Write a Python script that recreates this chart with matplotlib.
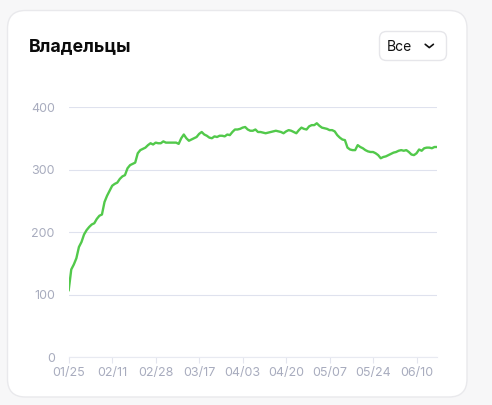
import matplotlib
matplotlib.use("Agg")
import matplotlib.pyplot as plt
import matplotlib.dates as mdates
from matplotlib.patches import FancyBboxPatch
from matplotlib.lines import Line2D
import pandas as pd

# ---- data ----
start_date = "2025-01-25"
owners = [
    107, 140, 148, 158, 176, 184, 196, 203, 208, 212,
    214, 221, 226, 228, 248, 258, 266, 274, 277, 279,
    285, 289, 291, 302, 307, 309, 311, 326, 331, 333,
    335, 339, 342, 340, 343, 342, 342, 345, 343, 343,
    343, 343, 343, 341, 350, 356, 350, 346, 348, 350,
    352, 357, 360, 356, 354, 351, 350, 353, 352, 354,
    354, 353, 356, 355, 360, 364, 364, 365, 367, 368,
    364, 362, 362, 364, 360, 360, 359, 358, 359, 360,
    361, 362, 361, 360, 358, 361, 363, 362, 360, 358,
    363, 367, 365, 364, 369, 371, 371, 374, 370, 367,
    366, 365, 363, 363, 361, 355, 351, 348, 347, 335,
    332, 331, 331, 339, 336, 334, 331, 329, 328, 328,
    326, 323, 318, 320, 321, 323, 325, 327, 328, 330,
    331, 330, 331, 328, 324, 323, 326, 332, 330, 334,
    335, 335, 334, 336, 336,
]
dates = pd.date_range(start_date, periods=len(owners), freq="D")
tick_dates = dates[::17]
y_ticks = [0, 100, 200, 300, 400]
title = "Владельцы"
filter_label = "Все"

W, H = 492, 405
fig = plt.figure(figsize=(W / 100, H / 100), dpi=100)
fig.patch.set_facecolor("#f7f7f8")

def fx(x):
    return x / W

def fy(y):
    return 1 - y / H

# card
card = FancyBboxPatch((7.5 / 100, (H - 397) / 100), (467 - 7.5) / 100, (397 - 10.5) / 100,
                      boxstyle="round,pad=0,rounding_size=0.18",
                      transform=fig.dpi_scale_trans, facecolor="white",
                      edgecolor="#e9e9ec", linewidth=1.0, zorder=0)
fig.add_artist(card)

# dropdown box
box = FancyBboxPatch((379.5 / 100, (H - 60.5) / 100), (446.5 - 379.5) / 100, (60.5 - 31.5) / 100,
                     boxstyle="round,pad=0,rounding_size=0.07",
                     transform=fig.dpi_scale_trans, facecolor="white",
                     edgecolor="#e6e6ea", linewidth=1.0, zorder=1)
fig.add_artist(box)
fig.text(fx(387), fy(46.8), filter_label, fontsize=10, family=["Inter", "DejaVu Sans"],
         color="#111111", ha="left", va="center")
fig.add_artist(Line2D([fx(425.2), fx(429.3), fx(433.4)], [fy(44.3), fy(47.6), fy(44.3)],
                      transform=fig.transFigure, color="#111111", linewidth=1.2,
                      solid_capstyle="round", solid_joinstyle="round"))

fig.text(fx(29), fy(46.5), title, fontsize=12.8, fontweight="bold",
         family=["Inter", "DejaVu Sans"], color="#0b0b0b", ha="left", va="center")

# axes
ax = fig.add_axes([fx(68.7), 1 - 357 / H, (437 - 68.7) / W, (357 - 107) / H])
ax.set_facecolor("none")
ax.plot(dates, owners, color="#52c94b", linewidth=1.7, solid_joinstyle="round", zorder=3)
ax.set_xlim(dates[0], dates[-1])
ax.set_ylim(0, 400)
ax.set_yticks(y_ticks)
ax.grid(axis="y", color="#dfe2ee", linewidth=0.8)
ax.set_xticks(tick_dates)
ax.xaxis.set_major_formatter(mdates.DateFormatter("%m/%d"))
for s in ["top", "right", "left"]:
    ax.spines[s].set_visible(False)
ax.spines["bottom"].set_color("#e8eaf1")
ax.spines["bottom"].set_linewidth(0.8)
ax.tick_params(axis="y", length=0, pad=10, labelcolor="#a8acbe", labelsize=9)
ax.tick_params(axis="x", length=4, width=0.8, color="#e3e5ee", pad=3,
               labelcolor="#a8acbe", labelsize=9)
for lab in ax.get_xticklabels() + ax.get_yticklabels():
    lab.set_family(["Inter", "DejaVu Sans"])

fig.savefig("out.png", dpi=100, facecolor=fig.get_facecolor())
